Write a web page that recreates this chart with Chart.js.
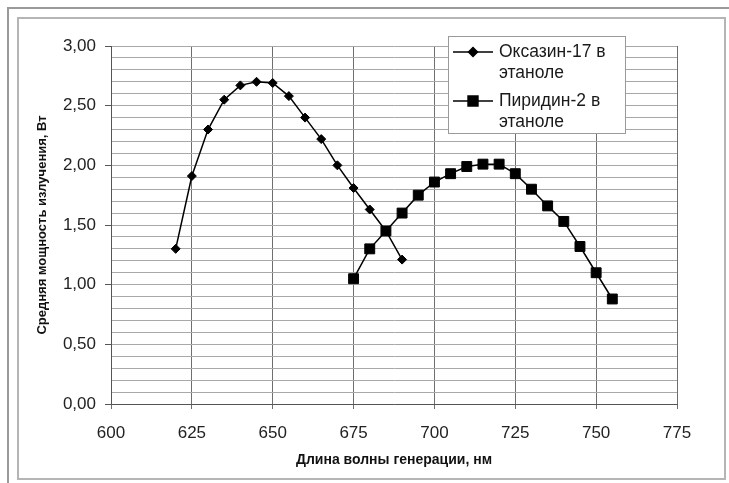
<!DOCTYPE html>
<html>
<head>
<meta charset="utf-8">
<script src="https://cdn.jsdelivr.net/npm/chart.js@4.4.1/dist/chart.umd.min.js"></script>
<style>
html,body{margin:0;padding:0;background:#fff;}
#wrap{position:relative;width:729px;height:483px;}
</style>
</head>
<body>
<div id="wrap"><canvas id="c" width="729" height="483"></canvas></div>
<script>
// ---- data ----
const oxazineWavelengths = [620, 625, 630, 635, 640, 645, 650, 655, 660, 665, 670, 675, 680, 685, 690];
const oxazinePower      = [1.30, 1.91, 2.30, 2.55, 2.67, 2.70, 2.69, 2.58, 2.40, 2.22, 2.00, 1.81, 1.63, 1.45, 1.21];
const pyridineWavelengths = [675, 680, 685, 690, 695, 700, 705, 710, 715, 720, 725, 730, 735, 740, 745, 750, 755];
const pyridinePower       = [1.05, 1.30, 1.45, 1.60, 1.75, 1.86, 1.93, 1.99, 2.01, 2.01, 1.93, 1.80, 1.66, 1.53, 1.32, 1.10, 0.88];
const seriesNames = ['Оксазин-17 в этаноле', 'Пиридин-2 в этаноле'];
const legendLines = [['Оксазин-17 в', 'этаноле'], ['Пиридин-2 в', 'этаноле']];
const xTitle = 'Длина волны генерации, нм';
const yTitle = 'Средняя мощность излучения, Вт';
const xMin = 600, xMax = 775, xStep = 25;
const yMin = 0, yMax = 3, yMinorStep = 0.1, yMajorStep = 0.5;

const FONT = "'Liberation Sans', Arial, sans-serif";
const toPts = (xs, ys) => xs.map((x, i) => ({x: x, y: ys[i]}));
const isMajor = v => Math.abs(v / yMajorStep - Math.round(v / yMajorStep)) < 1e-6;

const framePlugin = {
  id: 'frame',
  beforeDraw(chart) {
    const ctx = chart.ctx;
    ctx.save();
    ctx.fillStyle = '#fff';
    ctx.fillRect(0, 0, chart.width, chart.height);
    ctx.strokeStyle = '#9a9a9a';
    ctx.lineWidth = 2;
    ctx.beginPath();
    ctx.moveTo(8, 483); ctx.lineTo(8, 8); ctx.lineTo(729, 8);
    ctx.stroke();
    ctx.strokeStyle = '#b5b5b5';
    ctx.strokeRect(18, 18, 707, 461);
    ctx.restore();
  }
};

const legendPlugin = {
  id: 'boxLegend',
  afterDraw(chart) {
    const ctx = chart.ctx;
    ctx.save();
    const bx = 448, by = 36, bw = 177, bh = 97;
    ctx.fillStyle = '#fff';
    ctx.fillRect(bx, by, bw, bh);
    ctx.strokeStyle = '#9a9a9a';
    ctx.lineWidth = 1;
    ctx.strokeRect(bx + 0.5, by + 0.5, bw, bh);
    const rows = [52, 101];
    chart.data.datasets.forEach((ds, i) => {
      const y = rows[i];
      ctx.strokeStyle = '#000';
      ctx.lineWidth = 1.5;
      ctx.beginPath();
      ctx.moveTo(453, y); ctx.lineTo(493, y);
      ctx.stroke();
      Chart.helpers.drawPoint(ctx, {
        pointStyle: ds.pointStyle, radius: ds.pointRadius, rotation: 0, borderWidth: 1
      }, 473, y);
      ctx.fillStyle = '#000';
      ctx.fill();
      ctx.fillStyle = '#1a1a1a';
      ctx.font = '17.5px ' + FONT;
      ctx.textBaseline = 'middle';
      ctx.textAlign = 'left';
      legendLines[i].forEach((t, k) => ctx.fillText(t, 499, y + k * 21.5));
    });
    ctx.restore();
  }
};

new Chart(document.getElementById('c'), {
  type: 'line',
  data: {
    datasets: [
      {
        label: seriesNames[0],
        data: toPts(oxazineWavelengths, oxazinePower),
        borderColor: '#000', backgroundColor: '#000',
        borderWidth: 1.5, pointStyle: 'rectRot', pointRadius: 4.5,
        pointBackgroundColor: '#000', pointBorderColor: '#000', pointBorderWidth: 1,
        tension: 0
      },
      {
        label: seriesNames[1],
        data: toPts(pyridineWavelengths, pyridinePower),
        borderColor: '#000', backgroundColor: '#000',
        borderWidth: 1.5, pointStyle: 'rect', pointRadius: 7,
        pointBackgroundColor: '#000', pointBorderColor: '#000', pointBorderWidth: 1,
        tension: 0
      }
    ]
  },
  options: {
    responsive: false,
    animation: false,
    devicePixelRatio: 1,
    layout: { padding: { left: 0, top: 46, right: 52, bottom: 0 } },
    plugins: { legend: { display: false }, tooltip: { enabled: false } },
    scales: {
      x: {
        type: 'linear', min: xMin, max: xMax,
        afterFit(s) { s.height = 79; },
        ticks: { stepSize: xStep, color: '#222', font: { family: FONT, size: 17 }, padding: 14, maxRotation: 0, autoSkip: false },
        grid: { color: '#6e6e6e', lineWidth: 1, tickLength: 5, tickColor: '#6e6e6e' },
        border: { color: '#555', width: 1 },
        title: { display: true, text: xTitle, color: '#111', font: { family: FONT, size: 14, weight: 'bold' }, padding: { top: 0, bottom: 14 } }
      },
      y: {
        type: 'linear', min: yMin, max: yMax,
        afterFit(s) { s.width = 111; },
        ticks: {
          stepSize: yMinorStep, color: '#222', font: { family: FONT, size: 17 }, padding: 9, autoSkip: false,
          callback: v => isMajor(v) ? v.toFixed(2).replace('.', ',') : ''
        },
        grid: {
          color: '#a8a8a8', lineWidth: 1, tickLength: 6,
          tickColor: c => (c.tick && isMajor(c.tick.value)) ? '#555' : 'rgba(0,0,0,0)'
        },
        border: { color: '#555', width: 1 },
        title: { display: true, text: yTitle, color: '#111', font: { family: FONT, size: 13, weight: 'bold' }, padding: { top: 35, bottom: 0 } }
      }
    }
  },
  plugins: [framePlugin, legendPlugin]
});
</script>
</body>
</html>
